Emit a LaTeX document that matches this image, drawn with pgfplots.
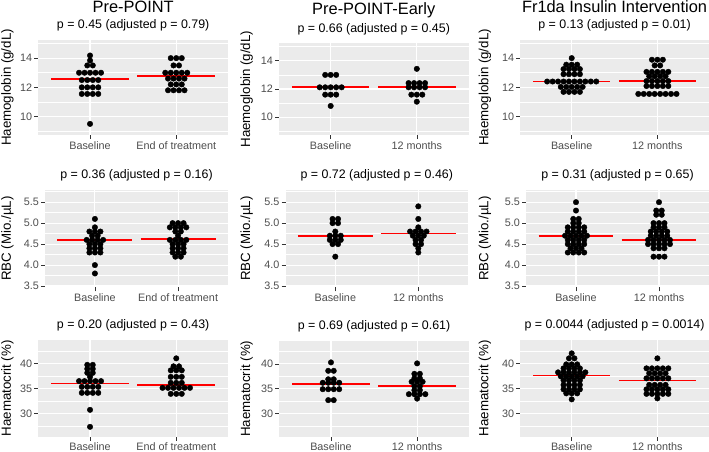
\documentclass[border=0pt]{standalone}
\usepackage{fontspec}
\setmainfont{Liberation Sans}
\usepackage{pgfplots}
\pgfplotsset{compat=1.18}
\definecolor{panelbg}{HTML}{EBEBEB}
\definecolor{tickgrey}{HTML}{4D4D4D}
\definecolor{tickmark}{HTML}{333333}
\definecolor{medred}{HTML}{FF0000}
\def\sA{0.0637}
\def\sB{0.066}
\pgfplotsset{
  gg/.style={
    scale only axis, anchor=north west,
    xmin=0.4, xmax=2.6, xtick={1,2},
    axis background/.style={fill=panelbg},
    axis line style={draw=none},
    xmajorgrids=true, ymajorgrids=true, yminorgrids=true,
    major grid style={white, line width=1.1pt},
    minor grid style={white, line width=0.55pt},
    tick align=outside, tick pos=left,
    major tick length=4pt, minor tick length=0pt,
    tick style={tickmark, line width=0.6pt},
    yticklabel style={font=\fontsize{10.8}{12}\selectfont, text=tickgrey, inner sep=2pt},
    xticklabel style={font=\fontsize{10.8}{12}\selectfont, text=tickgrey, inner sep=2pt},
    /pgf/number format/assume math mode=true,
    every axis title/.style={at={(0.5,1)}, anchor=center, yshift=14.3pt, font=\fontsize{12.4}{14}\selectfont},
  },
  ylab/.style={every axis y label/.style={at={(rel axis cs:0,0.5)}, xshift=-#1, rotate=90, anchor=center, font=\fontsize{13.3}{15}\selectfont}},
  bigtitle/.style={extra description/.code={\node[font=\fontsize{16.4}{19}\selectfont, yshift=33pt] at (0.5,1) {#1};}},
  hb/.style={ymin=8.74, ymax=15.24, ytick={10,12,14}, yticklabels={10,12,14}, minor ytick={9,11,13,15}, ylabel={Haemoglobin (g/dL)}},
  rbc/.style={ymin=3.47, ymax=5.79, ytick={3.5,4,4.5,5,5.5}, yticklabels={3.5,4.0,4.5,5.0,5.5}, minor ytick={3.75,4.25,4.75,5.25,5.75}, ylabel={RBC (Mio./µL)}},
  hct/.style={ymin=25.33, ymax=44.67, ytick={30,35,40}, yticklabels={30,35,40}, minor ytick={27.5,32.5,37.5,42.5}, ylabel={Haematocrit (\%)}},
  dots/.style={only marks, mark=*, mark size=2.75pt, mark options={draw=none, fill=black}},
  medline/.style={draw=medred, line width=1.7pt, mark=none},
}
\begin{document}
\begin{tikzpicture}
\useasboundingbox (0,0) rectangle (709pt,-452pt);

% ---------------- Row 1: Haemoglobin ----------------
\begin{axis}[gg, hb, at={(38.3pt,-40pt)}, width=189.7pt, height=95pt, ylab=30.8pt,
  xticklabels={Baseline,End of treatment}, bigtitle={Pre-POINT},
  title={p = 0.45 (adjusted p = 0.79)}]
\addplot[dots, x filter/.expression={1+x*\sA}] coordinates {
(0,14.18)(0,13.84)(-0.5,13.5)(0.5,13.5)
(-2,13)(-1,13)(0,13)(1,13)(2,13)
(-1.5,12.5)(-0.5,12.5)(0.5,12.5)(1.5,12.5)
(-1.5,12)(-0.5,12)(0.5,12)(1.5,12)
(-1.5,11.55)(-0.5,11.55)(0.5,11.55)(1.5,11.55)
(0,9.5)};
\addplot[dots, x filter/.expression={2+x*\sA}] coordinates {
(-1,14)(0,14)(1,14)
(-0.5,13.5)(0.5,13.5)
(-2,13)(-1,13)(0,13)(1,13)(2,13)
(-1.5,12.6)(-0.5,12.6)(0.5,12.6)(1.5,12.6)
(-1,12.2)(0,12.2)(1,12.2)
(-1.5,11.8)(-0.5,11.8)(0.5,11.8)(1.5,11.8)};
\addplot[medline] coordinates {(0.55,12.58) (1.45,12.58)};
\addplot[medline] coordinates {(1.55,12.79) (2.45,12.79)};
\end{axis}

\begin{axis}[gg, hb, at={(279pt,-43.3pt)}, width=189.5pt, height=91.7pt, ylab=32.3pt,
  xticklabels={Baseline,12 months}, bigtitle={Pre-POINT-Early},
  title={p = 0.66 (adjusted p = 0.45)}]
\addplot[dots, x filter/.expression={1+x*\sA}] coordinates {
(-1,13)(0,13)(1,13)
(-2,12.12)(-1,12.12)(0,12.12)(1,12.12)(2,12.12)
(-1,11.6)(0,11.6)(1,11.6)
(0,10.8)};
\addplot[dots, x filter/.expression={2+x*\sA}] coordinates {
(0,13.43)
(-1.5,12.42)(-0.5,12.42)(0.5,12.42)(1.5,12.42)
(-1.5,12.12)(-0.5,12.12)(0.5,12.12)(1.5,12.12)
(-1,11.6)(0,11.6)(1,11.6)
(0,11.1)};
\addplot[medline] coordinates {(0.55,12.16) (1.45,12.16)};
\addplot[medline] coordinates {(1.55,12.12) (2.45,12.12)};
\end{axis}

\begin{axis}[gg, hb, at={(520.3pt,-40pt)}, width=188.5pt, height=95pt, ylab=35.3pt,
  xticklabels={Baseline,12 months}, bigtitle={Fr1da Insulin Intervention},
  title={p = 0.13 (adjusted p = 0.01)}]
\addplot[dots, x filter/.expression={1+x*\sA}] coordinates {
(0,14)
(-1,13.55)(0,13.55)(1,13.55)
(-1.5,13.25)(-0.5,13.25)(0.5,13.25)(1.5,13.25)
(-1.5,12.9)(-0.5,12.9)(0.5,12.9)(1.5,12.9)
(-4.5,12.4)(-3.5,12.4)(-2.5,12.4)(-1.5,12.4)(-0.5,12.4)(0.5,12.4)(1.5,12.4)(2.5,12.4)(3.5,12.4)(4.5,12.4)
(-2,12.03)(-1,12.03)(0,12.03)(1,12.03)(2,12.03)
(-1.5,11.69)(-0.5,11.69)(0.5,11.69)(1.5,11.69)};
\addplot[dots, x filter/.expression={2+x*\sA}] coordinates {
(-1,13.89)(0,13.89)(1,13.89)
(-0.5,13.5)(0.5,13.5)
(-2,13.06)(-1,13.06)(0,13.06)(1,13.06)(2,13.06)
(-1.5,12.76)(-0.5,12.76)(0.5,12.76)(1.5,12.76)
(-2,12.43)(-1,12.43)(0,12.43)(1,12.43)(2,12.43)
(-2,12.09)(-1,12.09)(0,12.09)(1,12.09)(2,12.09)
(-3.5,11.55)(-2.5,11.55)(-1.5,11.55)(-0.5,11.55)(0.5,11.55)(1.5,11.55)(2.5,11.55)(3.5,11.55)};
\addplot[medline] coordinates {(0.55,12.41) (1.45,12.41)};
\addplot[medline] coordinates {(1.55,12.43) (2.45,12.43)};
\end{axis}

% ---------------- Row 2: RBC ----------------
\begin{axis}[gg, rbc, at={(45pt,-190pt)}, width=183pt, height=97.3pt, ylab=37.5pt,
  xticklabels={Baseline,End of treatment},
  title={p = 0.36 (adjusted p = 0.16)}]
\addplot[dots, x filter/.expression={1+x*\sB}] coordinates {
(0,5.1)(0,4.9)(-1,4.8)(0,4.8)(1,4.8)(-0.5,4.7)(0.5,4.7)
(-1.5,4.6)(-0.5,4.6)(0.5,4.6)(1.5,4.6)
(-1,4.5)(0,4.5)(1,4.5)
(-1,4.4)(0,4.4)(1,4.4)
(-1,4.3)(0,4.3)(1,4.3)
(0,4.0)(0,3.8)};
\addplot[dots, x filter/.expression={2+x*\sB}] coordinates {
(-1,5)(0,5)(1,5)
(-1.5,4.9)(-0.5,4.9)(0.5,4.9)(1.5,4.9)
(-0.5,4.8)(0.5,4.8)
(0,4.7)
(-1.5,4.6)(-0.5,4.6)(0.5,4.6)(1.5,4.6)
(-1,4.5)(0,4.5)(1,4.5)
(-1,4.4)(0,4.4)(1,4.4)
(-1,4.3)(0,4.3)(1,4.3)
(-0.5,4.2)(0.5,4.2)};
\addplot[medline] coordinates {(0.55,4.59) (1.45,4.59)};
\addplot[medline] coordinates {(1.55,4.62) (2.45,4.62)};
\end{axis}

\begin{axis}[gg, rbc, at={(285.5pt,-190pt)}, width=182.6pt, height=97.3pt, ylab=38.8pt,
  xticklabels={Baseline,12 months},
  title={p = 0.72 (adjusted p = 0.46)}]
\addplot[dots, x filter/.expression={1+x*\sB}] coordinates {
(-0.5,5.1)(0.5,5.1)(-0.5,5)(0.5,5)(0,4.8)
(-1,4.7)(0,4.7)(1,4.7)
(-1,4.6)(0,4.6)(1,4.6)
(-0.5,4.5)(0.5,4.5)
(0,4.2)};
\addplot[dots, x filter/.expression={2+x*\sB}] coordinates {
(0,5.4)(0,5.1)(0,4.9)
(-1.5,4.8)(-0.5,4.8)(0.5,4.8)(1.5,4.8)
(-1,4.7)(0,4.7)(1,4.7)
(-0.5,4.6)(0.5,4.6)
(-0.5,4.5)(0.5,4.5)
(0,4.4)(0,4.3)};
\addplot[medline] coordinates {(0.55,4.70) (1.45,4.70)};
\addplot[medline] coordinates {(1.55,4.75) (2.45,4.75)};
\end{axis}

\begin{axis}[gg, rbc, at={(526.2pt,-190pt)}, width=182.6pt, height=97.3pt, ylab=41.2pt,
  xticklabels={Baseline,12 months},
  title={p = 0.31 (adjusted p = 0.65)}]
\addplot[dots, x filter/.expression={1+x*\sB}] coordinates {
(0,5.5)(0,5.3)
(-0.5,5.1)(0.5,5.1)
(-0.5,5)(0.5,5)
(-1.5,4.9)(-0.5,4.9)(0.5,4.9)(1.5,4.9)
(-1.5,4.8)(-0.5,4.8)(0.5,4.8)(1.5,4.8)
(-2,4.7)(-1,4.7)(0,4.7)(1,4.7)(2,4.7)
(-1.5,4.6)(-0.5,4.6)(0.5,4.6)(1.5,4.6)
(-1.5,4.5)(-0.5,4.5)(0.5,4.5)(1.5,4.5)
(-1,4.4)(0,4.4)(1,4.4)
(-1.5,4.3)(-0.5,4.3)(0.5,4.3)(1.5,4.3)};
\addplot[dots, x filter/.expression={2+x*\sB}] coordinates {
(0,5.5)
(-0.5,5.3)(0.5,5.3)
(-0.5,5.2)(0.5,5.2)
(-1,5)(0,5)(1,5)
(-1,4.9)(0,4.9)(1,4.9)
(-1.5,4.8)(-0.5,4.8)(0.5,4.8)(1.5,4.8)
(-1.5,4.7)(-0.5,4.7)(0.5,4.7)(1.5,4.7)
(-2,4.6)(-1,4.6)(0,4.6)(1,4.6)(2,4.6)
(-2,4.5)(-1,4.5)(0,4.5)(1,4.5)(2,4.5)
(-1,4.4)(0,4.4)(1,4.4)
(-1,4.2)(0,4.2)(1,4.2)};
\addplot[medline] coordinates {(0.55,4.70) (1.45,4.70)};
\addplot[medline] coordinates {(1.55,4.60) (2.45,4.60)};
\end{axis}

% ---------------- Row 3: Haematocrit ----------------
\begin{axis}[gg, hct, at={(38.3pt,-340pt)}, width=189.7pt, height=96.7pt, ylab=30.8pt,
  xticklabels={Baseline,End of treatment},
  title={p = 0.20 (adjusted p = 0.43)}]
\addplot[dots, x filter/.expression={1+x*\sA}] coordinates {
(-0.5,39.7)(0.5,39.7)(-0.5,38.9)(0.5,38.9)(-0.5,38.1)(0.5,38.1)(0,37.3)
(-2,36.45)(-1,36.45)(0,36.45)(1,36.45)(2,36.45)
(-1.5,35.3)(-0.5,35.3)(0.5,35.3)(1.5,35.3)
(-1.5,34.1)(-0.5,34.1)(0.5,34.1)(1.5,34.1)
(0,30.7)(0,27.3)};
\addplot[dots, x filter/.expression={2+x*\sA}] coordinates {
(0,41)
(-0.5,39.4)(0.5,39.4)
(-1,38.6)(0,38.6)(1,38.6)
(-1,37.3)(0,37.3)(1,37.3)
(-1,36.1)(0,36.1)(1,36.1)
(-2.5,35.1)(-1.5,35.1)(-0.5,35.1)(0.5,35.1)(1.5,35.1)(2.5,35.1)
(-1,33.9)(0,33.9)(1,33.9)};
\addplot[medline] coordinates {(0.55,36.0) (1.45,36.0)};
\addplot[medline] coordinates {(1.55,35.73) (2.45,35.73)};
\end{axis}

\begin{axis}[gg, hct, at={(279.3pt,-340.7pt)}, width=189.5pt, height=96pt, ylab=32.6pt,
  xticklabels={Baseline,12 months},
  title={p = 0.69 (adjusted p = 0.61)}]
\addplot[dots, x filter/.expression={1+x*\sA}] coordinates {
(0,40.3)
(-0.5,38.6)(0.5,38.6)
(-0.5,36.9)(0.5,36.9)
(-1.5,36.2)(-0.5,36.2)(0.5,36.2)(1.5,36.2)
(-1.5,34.9)(-0.5,34.9)(0.5,34.9)(1.5,34.9)
(-0.5,32.7)(0.5,32.7)};
\addplot[dots, x filter/.expression={2+x*\sA}] coordinates {
(0,40.1)
(-0.5,38)(0.5,38)
(-0.5,37.1)(0.5,37.1)
(-1,36.4)(0,36.4)(1,36.4)
(-0.5,35.5)(0.5,35.5)
(-0.5,34.7)(0.5,34.7)
(-1.5,33.9)(-0.5,33.9)(0.5,33.9)(1.5,33.9)
(0,33)};
\addplot[medline] coordinates {(0.55,35.95) (1.45,35.95)};
\addplot[medline] coordinates {(1.55,35.54) (2.45,35.54)};
\end{axis}

\begin{axis}[gg, hct, at={(520.3pt,-340pt)}, width=188.5pt, height=96.7pt, ylab=35.3pt,
  xticklabels={Baseline,12 months},
  title={p = 0.0044 (adjusted p = 0.0014)}]
\addplot[dots, x filter/.expression={1+x*\sA}] coordinates {
(0,42)
(-0.5,41)(0.5,41)
(-1,39.8)(0,39.8)(1,39.8)
(-1.5,39)(-0.5,39)(0.5,39)(1.5,39)
(-2.5,38.2)(-1.5,38.2)(-0.5,38.2)(0.5,38.2)(1.5,38.2)(2.5,38.2)
(-2,37.4)(-1,37.4)(0,37.4)(1,37.4)(2,37.4)
(-1.5,36.6)(-0.5,36.6)(0.5,36.6)(1.5,36.6)
(-1.5,35.7)(-0.5,35.7)(0.5,35.7)(1.5,35.7)
(-1.5,34.8)(-0.5,34.8)(0.5,34.8)(1.5,34.8)
(-1,34)(0,34)(1,34)
(0,32.8)};
\addplot[dots, x filter/.expression={2+x*\sA}] coordinates {
(0,41)
(-2,39)(-1,39)(0,39)(1,39)(2,39)
(-1.5,38)(-0.5,38)(0.5,38)(1.5,38)
(-2,37)(-1,37)(0,37)(1,37)(2,37)
(-1.5,35.7)(-0.5,35.7)(0.5,35.7)(1.5,35.7)
(-2,34.8)(-1,34.8)(0,34.8)(1,34.8)(2,34.8)
(-2,33.9)(-1,33.9)(0,33.9)(1,33.9)(2,33.9)
(0,33)};
\addplot[medline] coordinates {(0.55,37.57) (1.45,37.57)};
\addplot[medline] coordinates {(1.55,36.55) (2.45,36.55)};
\end{axis}
\end{tikzpicture}
\end{document}
